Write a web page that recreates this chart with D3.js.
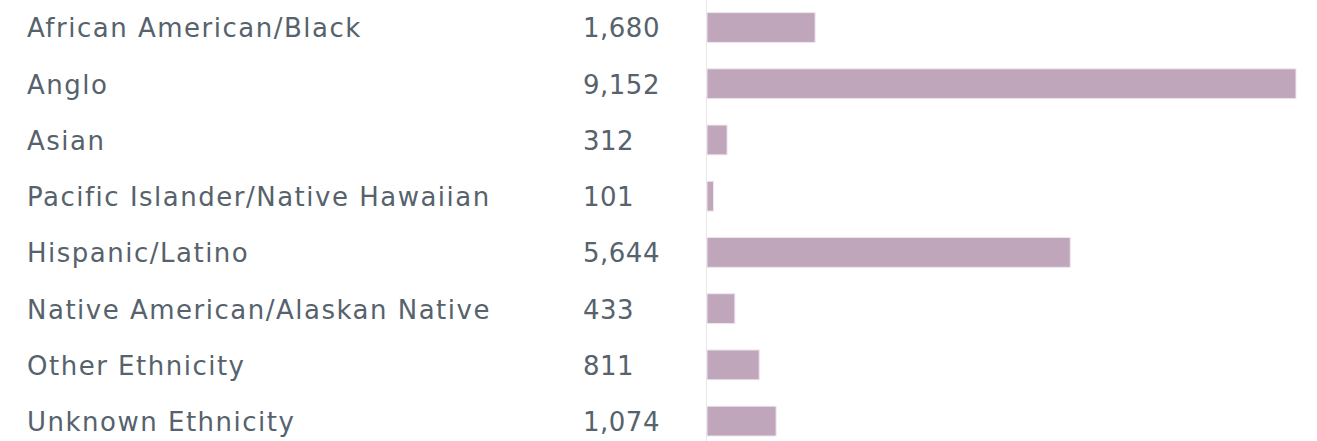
<!DOCTYPE html>
<html>
<head>
<meta charset="utf-8">
<script src="https://cdn.jsdelivr.net/npm/d3@7"></script>
<style>
  body { margin: 0; background: #fff; }
  text { font-family: "DejaVu Sans", sans-serif; fill: #56626c; }
</style>
</head>
<body>
<svg id="chart" width="1317" height="441"></svg>
<script>
// categories and counts
const categories = [
	"African American/Black",
	"Anglo",
	"Asian",
	"Pacific Islander/Native Hawaiian",
	"Hispanic/Latino",
	"Native American/Alaskan Native",
	"Other Ethnicity",
	"Unknown Ethnicity"
];
const counts = [1680, 9152, 312, 101, 5644, 433, 811, 1074];

const width = 1317, height = 441;
const svg = d3.select("#chart");

const x = d3.scaleLinear().domain([0, d3.max(counts)]).range([707, 1296]);
const y = d3.scaleBand().domain(categories).range([-0.9, 449.5]).paddingInner(0.47).paddingOuter(0.24);

const rows = categories.map((c, i) => ({name: c, value: counts[i]}));
const fmt = d3.format(",");

//baseline rule
svg.append("line")
	.attr("x1", 706.5).attr("x2", 706.5)
	.attr("y1", 0).attr("y2", height)
	.style("stroke", "#e8e8e8")
	.style("stroke-width", 1);

svg.selectAll("rect.bar")
	.data(rows)
	.enter()
	.append("rect")
	.attr("class", "bar")
	.attr("x", x(0))
	.attr("y", d => y(d.name))
	.attr("width", d => x(d.value) - x(0))
	.attr("height", y.bandwidth())
	.style("fill", "#bfa6ba")
	.style("stroke", "#efe6ed")
	.style("stroke-width", 1);

svg.selectAll("text.label")
	.data(rows)
	.enter()
	.append("text")
	.attr("class", "label")
	.attr("x", 27)
	.attr("y", d => y(d.name) + y.bandwidth() / 2)
	.attr("dy", "0.38em")
	.style("font-size", "26px")
	.style("letter-spacing", "1.5px")
	.text(d => d.name);

svg.selectAll("text.value")
	.data(rows)
	.enter()
	.append("text")
	.attr("class", "value")
	.attr("x", 583)
	.attr("y", d => y(d.name) + y.bandwidth() / 2)
	.attr("dy", "0.38em")
	.style("font-size", "26px")
	.style("letter-spacing", "0.5px")
	.text(d => fmt(d.value));
</script>
</body>
</html>
